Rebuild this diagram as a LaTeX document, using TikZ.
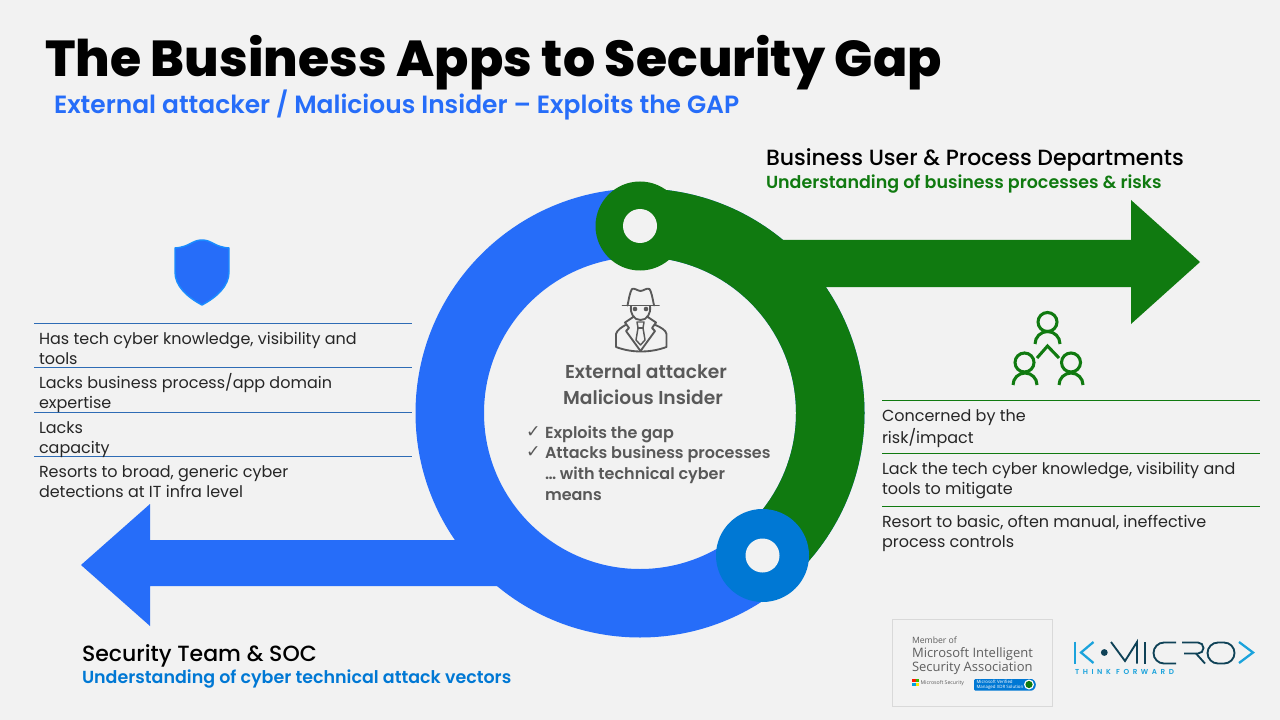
\documentclass[tikz,border=0pt]{standalone}
\usepackage{fontspec}
\setmainfont{Poppins}
\newfontfamily\segoe{Open Sans}
\newfontfamily\dejavu{DejaVu Sans}
\newfontfamily\psemi{Poppins SemiBold}
\newfontfamily\pxbold{Poppins ExtraBold}
\newfontfamily\pmed{Poppins Medium}
\newfontfamily\logofont[LetterSpace=50]{Poppins SemiBold}
\definecolor{bg}{HTML}{F2F2F2}
\definecolor{kblue}{HTML}{266DF9}
\definecolor{kgreen}{HTML}{107A10}
\definecolor{dblue}{HTML}{0078D4}
\definecolor{shieldline}{HTML}{1A8CFF}
\definecolor{txt}{HTML}{262626}
\definecolor{grey}{HTML}{595959}
\definecolor{rule}{HTML}{2E6CB5}
\definecolor{lteal}{HTML}{1BA3DC}
\definecolor{dteal}{HTML}{0F4257}
\definecolor{boxline}{HTML}{D9D9D9}
\definecolor{msatxt}{HTML}{5E5E5E}
\tikzset{
 tl/.style={anchor=base west,inner sep=0pt,outer sep=0pt,text=txt},
 fs/.style={font=\fontsize{#1}{#1}\selectfont},
 cl/.style={tl,font=\psemi\fontsize{12}{12}\selectfont,text=grey},
 ct/.style={anchor=base,inner sep=0pt,outer sep=0pt,font=\psemi\fontsize{14}{14}\selectfont,text=grey},
 tk/.style={tl,font=\dejavu\fontsize{13}{13}\selectfont,text=grey},
 bluerule/.style={draw=rule,line width=0.6pt},
 greenrule/.style={draw=kgreen,line width=0.6pt},
 iconline/.style={draw=grey,line width=1.4pt,line join=round,line cap=round},
 peopleline/.style={draw=kgreen,line width=2.3pt},
 logoL/.style={draw=lteal,line width=1.7pt,line join=miter},
 logoD/.style={draw=dteal,line width=1.4pt,line join=miter},
 msa/.style={tl,text=msatxt},
}
\begin{document}
\begin{tikzpicture}[x=0.75pt,y=-0.75pt]
\useasboundingbox (0,0) rectangle (1280,720);
\fill[bg] (0,0) rectangle (1280,720);
% blue arrow and ring
\fill[kblue] (150,540) -- (150,504) -- (81,565) -- (150,626) -- (150,586) -- (520,586) -- (520,540) -- cycle;
\fill[kblue,even odd rule] (640,413) circle (224.5) (640,413) circle (156);
% green part of the ring and arrow
\begin{scope}
\clip (640,413) -- (640,150) -- (900,150) -- (900,643) -- (833,643) -- cycle;
\fill[kgreen,even odd rule] (640,413) circle (224.5) (640,413) circle (156);
\end{scope}
\fill[kgreen] (770,240) -- (1131,240) -- (1131,200) -- (1200,262) -- (1131,324) -- (1131,287) -- (810,287) -- cycle;
% circles
\fill[kgreen] (640,226) circle (44.5);
\fill[bg] (640,226) circle (17);
\fill[dblue] (762.5,555.5) circle (46.5);
\fill[bg] (762.5,555.5) circle (17);
% title
\node[tl,font=\pxbold\fontsize{37.9}{37.9}\selectfont,text=black] (title) at (45,77) {The Business Apps to Security Gap};
\node[tl,font=\psemi\fontsize{18.7}{18.7}\selectfont,text=kblue] (sub) at (54,114) {External attacker / Malicious Insider – Exploits the GAP};
% headings
\node[tl,font=\pmed\fontsize{16.5}{16.5}\selectfont,text=black] (h1) at (766,166) {Business User \& Process Departments};
\node[tl,font=\psemi\fontsize{13.1}{13.1}\selectfont,text=kgreen] (h1s) at (766,189) {Understanding of business processes \& risks};
\node[tl,font=\pmed\fontsize{16.5}{16.5}\selectfont,text=black] (h2) at (82,661) {Security Team \& SOC};
\node[tl,font=\psemi\fontsize{13.1}{13.1}\selectfont,text=dblue] (h2s) at (82,683) {Understanding of cyber technical attack vectors};
% left list
\foreach \y in {323,367,412,456} \draw[bluerule] (34,\y) -- (412,\y);
\node[tl,fs=12] (l1) at (39,344) {Has tech cyber knowledge, visibility and};
\node[tl,fs=12] (l2) at (39,364) {tools};
\node[tl,fs=12] (l3) at (39,388) {Lacks business process/app domain};
\node[tl,fs=12] (l4) at (39,408) {expertise};
\node[tl,fs=12] (l5) at (39,433) {Lacks};
\node[tl,fs=12] (l6) at (39,453) {capacity};
\node[tl,fs=12] (l7) at (39,477) {Resorts to broad, generic cyber};
\node[tl,fs=12] (l8) at (39,497) {detections at IT infra level};
% right list
\foreach \y in {400,453,506} \draw[greenrule] (882,\y) -- (1260,\y);
\node[tl,fs=12] (r1) at (882,421) {Concerned by the};
\node[tl,fs=12] (r2) at (882,443) {risk/impact};
\node[tl,fs=12] (r3) at (882,474) {Lack the tech cyber knowledge, visibility and};
\node[tl,fs=12] (r4) at (882,494) {tools to mitigate};
\node[tl,fs=12] (r5) at (882,527) {Resort to basic, often manual, ineffective};
\node[tl,fs=12] (r6) at (882,547) {process controls};
% centre
\node[ct] (c1) at (646,378) {External attacker};
\node[ct] (c2) at (643,404) {Malicious Insider};
\node[cl] (c3) at (545,438) {Exploits the gap};
\node[cl] (c4) at (545,458) {Attacks business processes};
\node[cl] (c5) at (545,479) {… with technical cyber};
\node[cl] (c6) at (545,500) {means};
\node[tk] (t1) at (526,437) {✓};
\node[tk] (t2) at (526,457) {✓};
% spy icon
\draw[iconline] (622.5,305.5) -- (659,305.5);
\draw[iconline] (627.5,305.5) .. controls (629,298) and (630,292) .. (632,289) .. controls (634,287.5) and (638,291) .. (640.5,291) .. controls (643,291) and (647,287.5) .. (649.5,289) .. controls (651.5,292) and (652.5,298) .. (654,305.5);
\draw[iconline] (631,306) .. controls (630,314) and (634,320) .. (640.5,320) .. controls (647,320) and (651,314) .. (650,306);
\fill[grey] (635,309) circle (2.3) (646,309) circle (2.3);
\draw[iconline] (625.5,325) .. controls (622,327) and (617,330) .. (616,334) -- (616,347) .. controls (632,353) and (650,353) .. (666.5,347) -- (666.5,334) .. controls (666,330) and (660,327) .. (655.5,325);
\draw[iconline] (634,316.5) -- (625,322.5) -- (629,328) -- (626,331) -- (640.5,351);
\draw[iconline] (647,316.5) -- (656,322.5) -- (652,328) -- (655,331) -- (640.5,351);
\draw[iconline,line width=1.1pt] (637,322) -- (644,322) -- (643,328) -- (645,340) -- (640.5,345) -- (636,340) -- (638,328) -- cycle;
\draw[iconline,line width=1.1pt] (638,328) -- (643,328);
% shield
\fill[kblue,draw=shieldline,line width=1.1pt,line join=round] (202,240) .. controls (192,240) and (190,247) .. (175,248) -- (175,272) .. controls (175,286) and (187,297) .. (202,305) .. controls (217,297) and (229,286) .. (229,272) -- (229,248) .. controls (214,247) and (212,240) .. (202,240) -- cycle;
% people icon
\draw[peopleline] (1047.5,322) circle (9.5);
\draw[peopleline] (1035,344) arc (180:360:12.5 and 12.5);
\draw[peopleline] (1024.5,362.5) circle (9.5);
\draw[peopleline] (1013,385) arc (180:360:12);
\draw[peopleline] (1071,362.5) circle (9.5);
\draw[peopleline] (1059,385) arc (180:360:12);
\draw[peopleline] (1037,358) -- (1047.5,346) -- (1059,358);
% partner badge
\draw[boxline,line width=0.8pt,fill=bg] (892.5,619.5) rectangle (1052.5,706.5);
\node[msa,font=\segoe\fontsize{6.5}{6.5}\selectfont] (m1) at (912,643) {Member of};
\node[msa,font=\segoe\fontsize{9.75}{9.75}\selectfont] (m2) at (912,657.5) {Microsoft Intelligent};
\node[msa,font=\segoe\fontsize{9.75}{9.75}\selectfont] (m3) at (912,671) {Security Association};
\fill[red!80!orange] (912.3,679) rectangle (915.5,682.2);
\fill[green!60!black!70!lime] (915.9,679) rectangle (919.1,682.2);
\fill[dblue!70!cyan] (912.3,682.6) rectangle (915.5,685.8);
\fill[yellow!90!orange] (915.9,682.6) rectangle (919.1,685.8);
\node[msa,font=\segoe\fontsize{3.9}{3.9}\selectfont] (m4) at (920.5,684.8) {Microsoft Security};
\fill[dblue,rounded corners=1pt] (974,679) -- (1030,679) arc (-90:90:5.8) -- (974,690.6) -- cycle;
\node[tl,font=\segoe\fontsize{3.3}{3.3}\selectfont,text=white] (m5) at (976.5,683.6) {Microsoft Verified};
\node[tl,font=\segoe\fontsize{3.3}{3.3}\selectfont,text=white] (m6) at (976.5,688.8) {Managed XDR Solution};
\fill[white] (1029,684.5) circle (5);
\fill[kgreen] (1029,684.5) circle (3.6);
% K-Micro logo
\draw[logoL] (1075,641.5) -- (1075,663.5);
\draw[logoL] (1093.5,642) -- (1081,652.5) -- (1093.5,663);
\fill[dteal] (1104.3,652.5) circle (3.4);
\draw[logoD] (1111,642) -- (1125,661) -- (1137,642) -- (1137,663.5);
\draw[logoD] (1145,642) -- (1145,663.5);
\draw[logoD] (1176,642.5) -- (1164,642.5) arc (-90:-270:10.5) -- (1176,663.5);
\draw[logoD] (1182,642.5) -- (1198,642.5) arc (-90:90:5.5) -- (1184,653.5);
\draw[logoD] (1196,653.5) -- (1205,663.5);
\draw[logoD] (1218,642.5) -- (1224,642.5) arc (-90:90:10.5) -- (1218,663.5) arc (90:270:10.5) -- cycle;
\draw[logoL] (1239,642) -- (1253,652.5) -- (1239,663);
\node[tl,font=\logofont\fontsize{5.4}{5.4}\selectfont,text=lteal] (tf) at (1075,674) {THINK FORWARD};
\end{tikzpicture}
\end{document}
